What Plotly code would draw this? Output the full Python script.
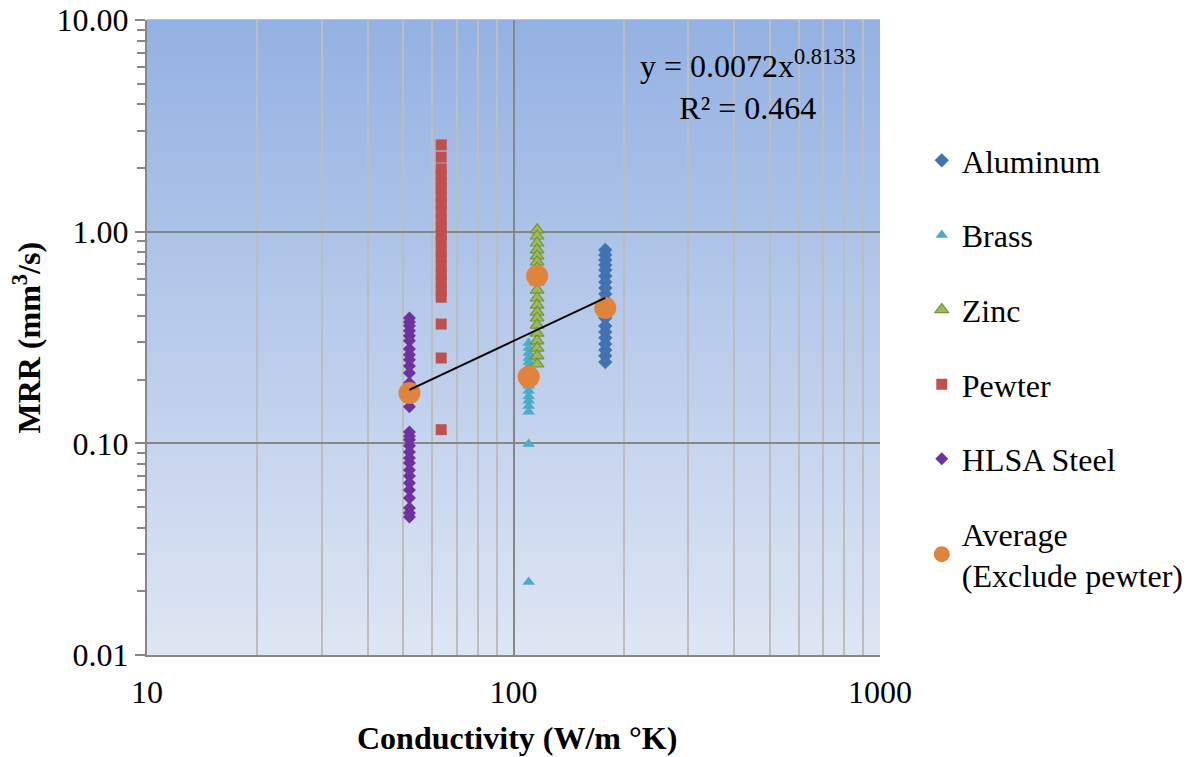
import plotly.graph_objects as go

# ---------------- data ----------------
aluminum_x = 178
aluminum_y = [0.819, 0.776, 0.735, 0.696, 0.659, 0.617, 0.579, 0.542, 0.508, 0.476,
              0.446, 0.417, 0.391, 0.358, 0.336, 0.315, 0.295, 0.276, 0.259, 0.242]

brass_x = 110
brass_y = [0.298, 0.282, 0.267, 0.253, 0.242, 0.230, 0.2175, 0.208, 0.197, 0.187,
           0.177, 0.167, 0.159, 0.150, 0.141, 0.0994, 0.0221]

zinc_x = 116
zinc_y = [1.02, 0.954, 0.884, 0.820, 0.768, 0.719, 0.674, 0.624, 0.579, 0.530,
          0.486, 0.450, 0.417, 0.391, 0.362, 0.332, 0.305, 0.282, 0.259, 0.237]

pewter_x = 63.5
pewter_y = [2.57, 2.25, 1.98, 1.85, 1.71, 1.60, 1.47, 1.36, 1.25, 1.14, 1.05, 0.97,
            0.90, 0.82, 0.76, 0.69, 0.63, 0.58, 0.53, 0.49, 0.366, 0.253, 0.116]

hlsa_x = 52
hlsa_y = [0.391, 0.374, 0.359, 0.340, 0.322, 0.305, 0.279, 0.262, 0.248, 0.232,
          0.215, 0.193, 0.168, 0.149, 0.113, 0.108, 0.104, 0.0973, 0.091, 0.0853,
          0.0808, 0.0748, 0.0701, 0.065, 0.0602, 0.0552, 0.0495, 0.0469, 0.0449]

avg_x = [52, 110, 116, 178]
avg_y = [0.173, 0.206, 0.618, 0.436]

# power trendline shown on chart: y = 0.0072 x^0.8133
trend_a = 0.0072
trend_b = 0.8133
trend_x = [52, 178]

x_tick_vals = [10, 100, 1000]
x_tick_text = ["10", "100", "1000"]
y_tick_vals = [0.01, 0.1, 1, 10]
y_tick_text = ["0.01", "0.10", "1.00", "10.00"]

# ---------------- figure ----------------
FONT = "Liberation Serif"
FS = 32
fig = go.Figure()

fig.add_trace(go.Scatter(x=[aluminum_x] * len(aluminum_y), y=aluminum_y, mode="markers",
                         name="Aluminum", legendgroup="a",
                         marker=dict(symbol="diamond", size=11, color="#4372B0")))
fig.add_trace(go.Scatter(x=[brass_x] * len(brass_y), y=brass_y, mode="markers",
                         name="Brass", legendgroup="b",
                         marker=dict(symbol="triangle-up", size=11, color="#4BACC6")))
fig.add_trace(go.Scatter(x=[zinc_x] * len(zinc_y), y=zinc_y, mode="markers",
                         name="Zinc", legendgroup="c",
                         marker=dict(symbol="triangle-up", size=12, color="#9BBB59",
                                     line=dict(color="#76923C", width=1.2))))
fig.add_trace(go.Scatter(x=[pewter_x] * len(pewter_y), y=pewter_y, mode="markers",
                         name="Pewter", legendgroup="d",
                         marker=dict(symbol="square", size=11, color="#C0504D")))
fig.add_trace(go.Scatter(x=[hlsa_x] * len(hlsa_y), y=hlsa_y, mode="markers",
                         name="HLSA Steel", legendgroup="e",
                         marker=dict(symbol="diamond", size=10, color="#7030A0")))
fig.add_trace(go.Scatter(x=avg_x, y=avg_y, mode="markers",
                         name="Average<br>(Exclude pewter)", legendgroup="f",
                         marker=dict(symbol="circle", size=22, color="#E0843C")))
fig.add_trace(go.Scatter(x=trend_x, y=[trend_a * v ** trend_b for v in trend_x],
                         mode="lines", showlegend=False,
                         line=dict(color="black", width=2)))

# gradient background for the plot area
top = (0x93, 0xB1, 0xE2)
bot = (0xDF, 0xE6, 0xF3)
n = 80
for i in range(n):
    t = (i + 0.5) / n
    c = tuple(round(top[k] + (bot[k] - top[k]) * t) for k in range(3))
    fig.add_shape(type="rect", xref="x domain", yref="y domain",
                  x0=0, x1=1, y0=1 - (i + 1) / n, y1=1 - i / n + 0.001,
                  fillcolor="rgb(%d,%d,%d)" % c, line=dict(width=0), layer="below")

fig.add_annotation(x=0.82, y=0.897, xref="paper", yref="paper",
                   xanchor="center", yanchor="middle",
                   text="y = 0.0072x<sup>0.8133</sup><br>R² = 0.464",
                   showarrow=False, align="center",
                   font=dict(family=FONT, size=FS, color="black"))

# axis titles
fig.add_annotation(x=0.505, y=-0.13, xref="paper", yref="paper",
                   xanchor="center", yanchor="middle",
                   text="<b>Conductivity (W/m °K)</b>", showarrow=False,
                   font=dict(family=FONT, size=FS, color="black"))
fig.add_annotation(x=-0.165, y=0.5, xref="paper", yref="paper",
                   xanchor="center", yanchor="middle", textangle=-90,
                   text="<b>MRR (mm<sup>3</sup>/s)</b>", showarrow=False,
                   font=dict(family=FONT, size=FS, color="black"))

fig.update_xaxes(type="log", range=[1, 3], automargin=False,
                 tickvals=x_tick_vals, ticktext=x_tick_text,
                 showgrid=True, gridcolor="#878787", gridwidth=2,
                 minor=dict(dtick="D1", showgrid=True, gridcolor="#BDBDBD", gridwidth=2, ticks=""),
                 showline=True, linecolor="#878787", linewidth=2,
                 ticks="outside", ticklen=8, tickcolor="rgba(0,0,0,0)", zeroline=False,
                 tickfont=dict(family=FONT, size=FS, color="black"))
fig.update_yaxes(type="log", range=[-2, 1], automargin=False,
                 tickvals=y_tick_vals, ticktext=y_tick_text,
                 showgrid=True, gridcolor="#878787", gridwidth=2,
                 minor=dict(dtick="D1", showgrid=False, ticks="outside", ticklen=8,
                            tickcolor="#878787", tickwidth=1.5),
                 showline=True, linecolor="#878787", linewidth=2,
                 ticks="outside", ticklen=10, tickcolor="#878787", tickwidth=2,
                 zeroline=False,
                 tickfont=dict(family=FONT, size=FS, color="black"))

fig.update_layout(
    width=1202, height=757,
    margin=dict(l=147, r=322, t=20, b=102),
    paper_bgcolor="white", plot_bgcolor="#C0D0EC",
    font=dict(family=FONT, color="black"),
    showlegend=True,
    legend=dict(x=1.057, y=0.822, xanchor="left", yanchor="top",
                traceorder="grouped", tracegroupgap=30,
                font=dict(family=FONT, size=FS, color="black"),
                bgcolor="rgba(0,0,0,0)", itemwidth=30),
)

fig.write_html("out.html", config={"displayModeBar": False},
               post_script="document.body.style.margin='0px';")
